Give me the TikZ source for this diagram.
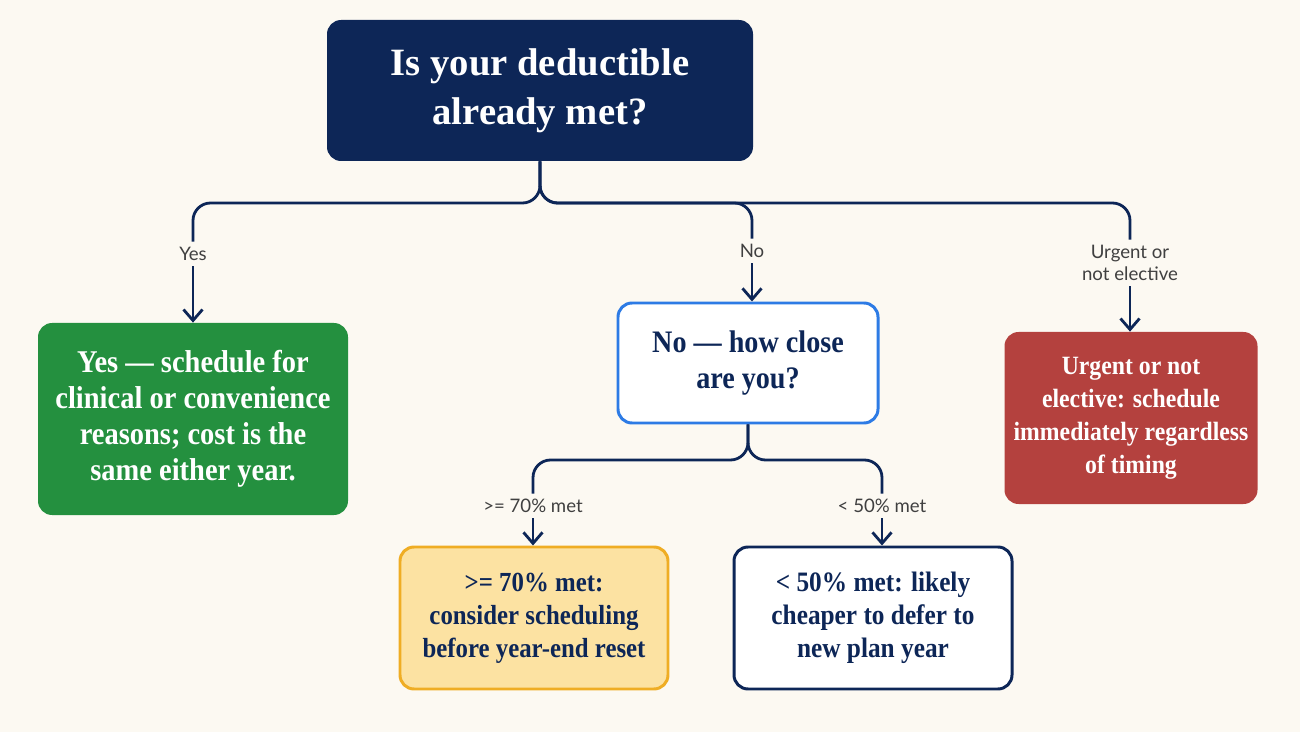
\documentclass[tikz,border=0pt]{standalone}
\usepackage{fontspec}
\setmainfont{Liberation Serif}
\newfontfamily\boxfont{Liberation Serif}[FakeStretch=0.9,BoldFeatures={FakeStretch=0.9}]
\newfontfamily\lblfont{Lato}
\usetikzlibrary{arrows.meta,positioning}
\definecolor{cream}{HTML}{FCF9F2}
\definecolor{navy}{HTML}{0D2657}
\definecolor{okgreen}{HTML}{24903F}
\definecolor{askblue}{HTML}{2D7BE5}
\definecolor{urgred}{HTML}{B4413E}
\definecolor{ylwfill}{HTML}{FCE2A2}
\definecolor{ylwline}{HTML}{EFAD24}
\definecolor{lblgray}{HTML}{404040}

\begin{document}
\begin{tikzpicture}[
  box/.style={rounded corners=8pt,align=center,inner sep=4pt},
  lbl/.style={font=\lblfont\fontsize{10.6}{12.5}\selectfont,text=lblgray,align=center,inner sep=3pt},
  flow/.style={draw=navy,line width=1.6pt,rounded corners=10pt},
  arr/.style={draw=navy,line width=1.6pt,-{Straight Barb[length=2.2mm,width=3.8mm]}}]
\fill[cream] (0,0) rectangle (26,-14.64);
% boxes
\node[box,fill=navy,text=white,minimum width=8.52cm,minimum height=2.82cm,font=\rmfamily\bfseries\fontsize{22}{28}\selectfont] (root) at (10.8,-1.81) {Is your deductible\\already met?};
\node[box,fill=okgreen,text=white,minimum width=6.2cm,minimum height=3.84cm,font=\boxfont\bfseries\fontsize{18}{20.4}\selectfont] (yes) at (3.86,-8.38) {Yes — schedule for\\clinical or convenience\\reasons; cost is the\\same either year.};
\node[box,draw=askblue,fill=white,line width=1.7pt,text=navy,minimum width=5.2cm,minimum height=2.4cm,font=\boxfont\bfseries\fontsize{17.8}{21}\selectfont] (no) at (14.96,-7.26) {No — how close\\are you?};
\node[box,fill=urgred,text=white,minimum width=5.06cm,minimum height=3.44cm,font=\boxfont\bfseries\fontsize{15}{18.7}\selectfont] (urg) at (22.62,-8.36) {Urgent or not\\elective: schedule\\immediately regardless\\of timing};
\node[box,draw=ylwline,fill=ylwfill,line width=1.7pt,text=navy,minimum width=5.36cm,minimum height=2.84cm,font=\boxfont\bfseries\fontsize{15.7}{18.7}\selectfont] (hi) at (10.68,-12.36) {>= 70\% met:\\consider scheduling\\before year-end reset};
\node[box,draw=navy,fill=white,line width=1.7pt,text=navy,minimum width=5.56cm,minimum height=2.84cm,font=\boxfont\bfseries\fontsize{16}{18.7}\selectfont] (lo) at (17.46,-12.36) {< 50\% met: likely\\cheaper to defer to\\new plan year};
% labels
\node[lbl] (lyes) at (3.86,-5.08) {Yes};
\node[lbl] (lno) at (15.04,-5.02) {No};
\node[lbl] (lurg) at (22.6,-5.26) {Urgent or\\not elective};
\node[lbl] (lhi) at (10.66,-10.12) {>= 70\% met};
\node[lbl] (llo) at (17.64,-10.12) {< 50\% met};
\coordinate (s1) at (10.8,-4.06);
\coordinate (s2) at (14.96,-9.2);
% connectors
\draw[flow] (root) -- (s1) -| (lyes);
\draw[flow] (root) -- (s1) -| (lno);
\draw[flow] (root) -- (s1) -| (lurg);
\draw[arr] (lyes) -- (yes);
\draw[arr] (lno) -- (lno |- no.north);
\draw[arr] (lurg) -- (lurg |- urg.north);
\draw[flow] (no) -- (s2) -| (lhi);
\draw[flow] (no) -- (s2) -| (llo);
\draw[arr] (lhi) -- (lhi |- hi.north);
\draw[arr] (llo) -- (llo |- lo.north);
\end{tikzpicture}
\end{document}
